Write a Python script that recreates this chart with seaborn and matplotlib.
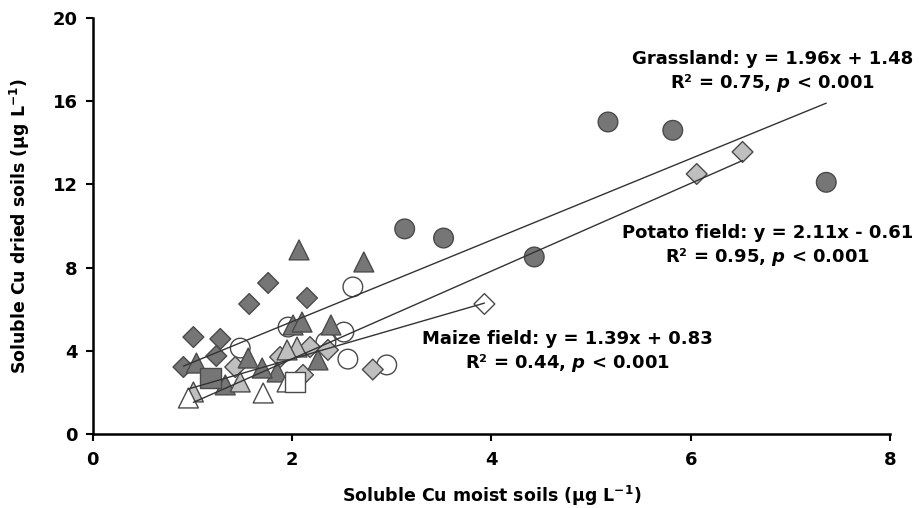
import matplotlib
matplotlib.use("Agg")
import matplotlib.pyplot as plt
import seaborn as sns
import pandas as pd
import numpy as np

# ---------------- data ----------------
# Grassland (dark grey)
grass_circle_x = [3.13, 3.52, 4.43, 5.17, 5.82, 7.36]
grass_circle_y = [9.86, 9.42, 8.51, 15.0, 14.6, 12.1]
grass_diamond_x = [1.01, 1.28, 0.91, 1.24, 1.57, 1.76, 2.15]
grass_diamond_y = [4.66, 4.57, 3.22, 3.75, 6.25, 7.26, 6.54]
grass_triangle_x = [2.07, 2.72, 1.04, 2.01, 2.10, 2.39, 2.26, 1.85, 1.70, 1.56, 1.33]
grass_triangle_y = [8.85, 8.27, 3.41, 5.24, 5.38, 5.24, 3.56, 2.98, 3.17, 3.65, 2.36]
grass_square_x = [1.18]
grass_square_y = [2.69]

# Potato field (light grey)
potato_diamond_x = [6.52, 6.06, 2.81, 2.11, 1.43, 1.88, 2.18, 2.36]
potato_diamond_y = [13.56, 12.5, 3.10, 2.84, 3.22, 3.70, 4.18, 4.04]
potato_triangle_x = [1.01, 2.05, 1.48, 1.95]
potato_triangle_y = [2.02, 4.18, 2.50, 4.04]

# Maize field (white)
maize_circle_x = [2.61, 1.48, 2.52, 2.56, 2.34, 2.95, 1.96]
maize_circle_y = [7.07, 4.13, 4.90, 3.60, 4.42, 3.32, 5.14]
maize_triangle_x = [0.96, 1.71, 1.95]
maize_triangle_y = [1.73, 1.97, 2.50]
maize_square_x = [2.03]
maize_square_y = [2.50]
maize_diamond_x = [3.93]
maize_diamond_y = [6.25]

land_uses = ["Grassland", "Potato field", "Maize field"]
slopes = [1.96, 2.11, 1.39]
intercepts = [1.48, -0.61, 0.83]
r2_values = ["0.75", "0.95", "0.44"]

x_ticks = [0, 2, 4, 6, 8]
y_ticks = [0, 4, 8, 12, 16, 20]

# ---------------- build table ----------------
rows = []
def add(xs, ys, land, shape):
    for a, b in zip(xs, ys):
        rows.append({"x": a, "y": b, "land": land, "shape": shape})

add(grass_circle_x, grass_circle_y, "Grassland", "circle")
add(grass_diamond_x, grass_diamond_y, "Grassland", "diamond")
add(grass_triangle_x, grass_triangle_y, "Grassland", "triangle")
add(grass_square_x, grass_square_y, "Grassland", "square")
add(potato_diamond_x, potato_diamond_y, "Potato field", "diamond")
add(potato_triangle_x, potato_triangle_y, "Potato field", "triangle")
add(maize_circle_x, maize_circle_y, "Maize field", "circle")
add(maize_triangle_x, maize_triangle_y, "Maize field", "triangle")
add(maize_square_x, maize_square_y, "Maize field", "square")
add(maize_diamond_x, maize_diamond_y, "Maize field", "diamond")
df = pd.DataFrame(rows)

# ---------------- style ----------------
sns.set_style("white")
plt.rcParams["font.family"] = ["DejaVu Sans"]
plt.rcParams["font.weight"] = "bold"
plt.rcParams["text.color"] = "black"
plt.rcParams["axes.labelcolor"] = "black"
plt.rcParams["mathtext.fontset"] = "custom"
plt.rcParams["mathtext.rm"] = "DejaVu Sans:bold"
plt.rcParams["mathtext.it"] = "DejaVu Sans:italic:bold"
plt.rcParams["mathtext.bf"] = "DejaVu Sans:bold"

palette = {"Grassland": "#767676", "Potato field": "#bfbfbf", "Maize field": "#ffffff"}
marker_map = {"circle": "o", "diamond": "D", "triangle": "^", "square": "s"}
size_map = {"circle": 200, "diamond": 112, "triangle": 205, "square": 215}

fig = plt.figure(figsize=(9.19, 5.08), dpi=100)
ax = fig.add_axes([0.1009, 0.1457, 0.8676, 0.8189])

# regression lines
for land, m, b in zip(land_uses, slopes, intercepts):
    sub = df[df["land"] == land]
    xs = np.array([sub["x"].min(), sub["x"].max()])
    sns.lineplot(x=xs, y=m * xs + b, ax=ax, color="#333333", lw=1.0, zorder=3)

for shape in ["circle", "diamond", "triangle", "square"]:
    sub = df[df["shape"] == shape]
    sns.scatterplot(data=sub, x="x", y="y", hue="land", palette=palette,
                    marker=marker_map[shape], s=size_map[shape],
                    edgecolor="#4a4a4a", linewidth=1.0, legend=False, ax=ax, zorder=2)

ax.set_xlim(0, 8)
ax.set_ylim(0, 20)
ax.set_xticks(x_ticks)
ax.set_yticks(y_ticks)
ax.tick_params(axis="both", direction="out", length=5, width=1.5, labelsize=13,
               colors="black", bottom=True, left=True)
ax.tick_params(axis="x", pad=7)
ax.tick_params(axis="y", pad=6)
for lab in ax.get_xticklabels() + ax.get_yticklabels():
    lab.set_fontweight("bold")
for side in ["top", "right"]:
    ax.spines[side].set_visible(False)
for side in ["left", "bottom"]:
    ax.spines[side].set_color("black")
    ax.spines[side].set_linewidth(1.8)

ax.set_xlabel(r"Soluble Cu moist soils (µg L$^{\mathrm{-1}}$)", fontsize=12.5,
              fontweight="bold", labelpad=11, color="black")
ax.set_ylabel(r"Soluble Cu dried soils (µg L$^{\mathrm{-1}}$)", fontsize=12.5,
              fontweight="bold", labelpad=15, color="black")

# annotations
label_pos = [(6.82, 18.03), (6.77, 9.66), (4.76, 4.57)]
for land, m, b, r2, (tx, ty) in zip(land_uses, slopes, intercepts, r2_values, label_pos):
    sign = "+" if b >= 0 else "-"
    line1 = f"{land}: y = {m:.2f}x {sign} {abs(b):.2f}"
    line2 = f"R² = {r2}, $p$ < 0.001"
    ax.text(tx, ty, line1, ha="center", va="center", fontsize=13, fontweight="bold",
            color="black")
    ax.text(tx, ty - 1.17, line2, ha="center", va="center", fontsize=13,
            fontweight="bold", color="black")

fig.savefig("out.png", dpi=100)
